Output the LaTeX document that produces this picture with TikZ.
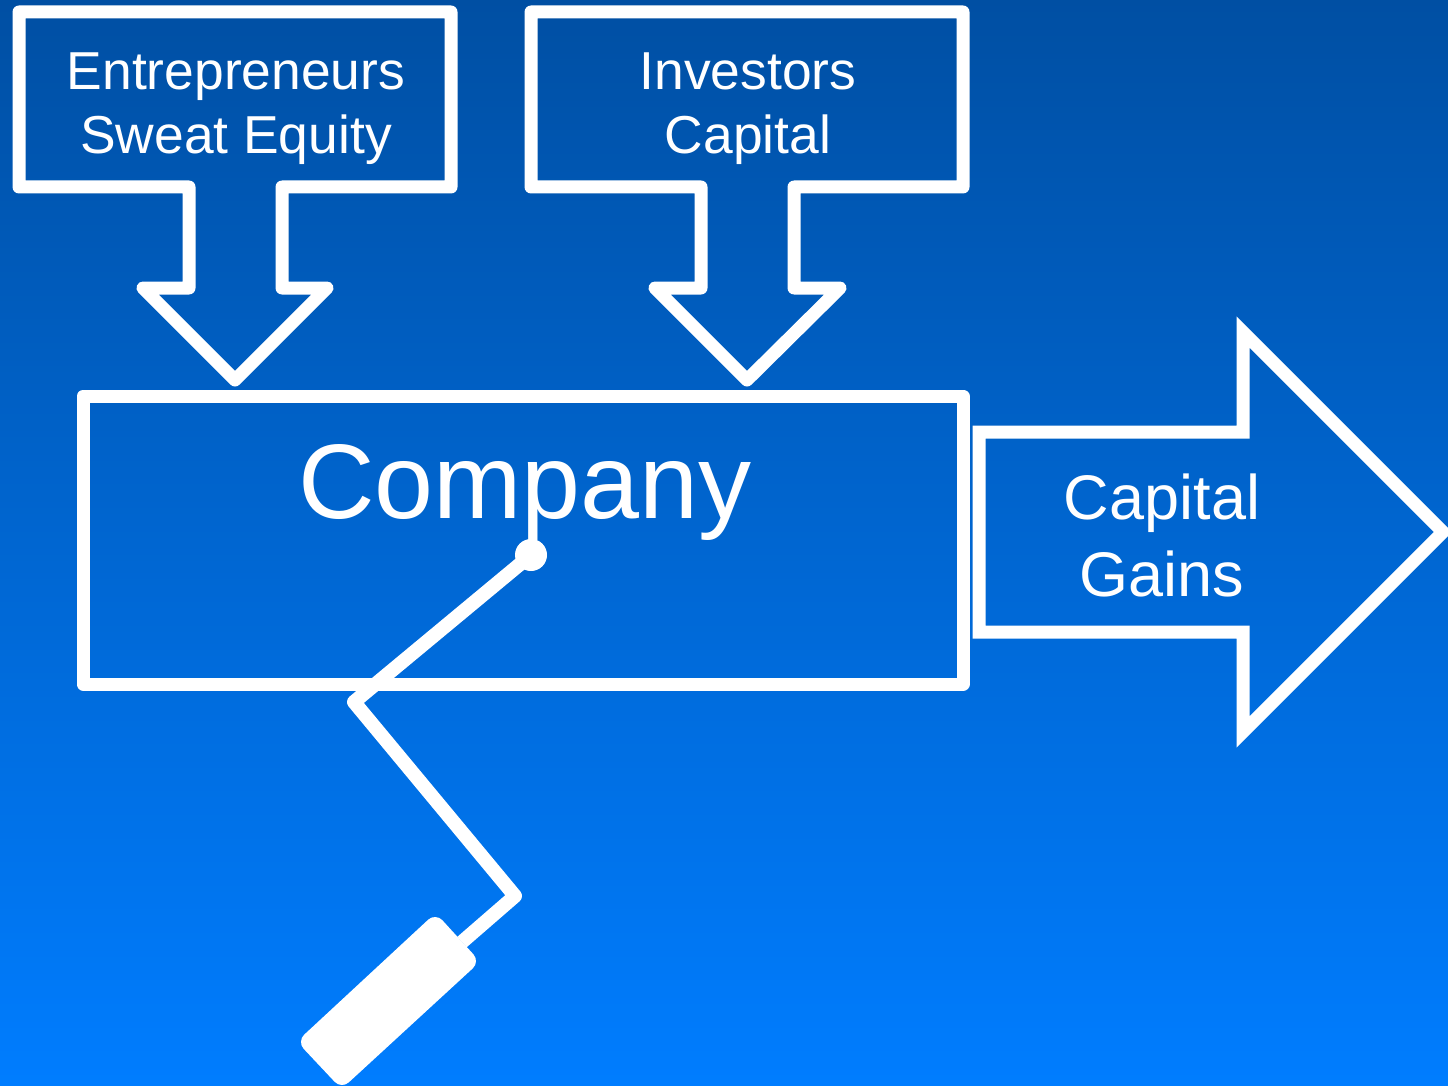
\documentclass[tikz,border=0pt]{standalone}
\usepackage{fontspec}
\setmainfont{Liberation Sans}
\definecolor{bgtop}{HTML}{004FA3}
\definecolor{bgbot}{HTML}{007DFF}
\tikzset{
  outline/.style={draw=white,line width=13pt,line join=round},
  sharpline/.style={draw=white,line width=13pt,line join=miter,miter limit=10},
  armline/.style={draw=white,line width=14pt,line join=round},
  lbl/.style={text=white,align=center,inner sep=0pt,font=\fontsize{53.4}{64}\selectfont},
  lblbig/.style={text=white,align=center,inner sep=0pt,font=\fontsize{106}{120}\selectfont},
  lblgain/.style={text=white,align=center,inner sep=0pt,font=\fontsize{63}{77}\selectfont}
}
\begin{document}
\begin{tikzpicture}[x=1pt,y=-1pt]
\useasboundingbox (0,0) rectangle (1448,1086);
\clip (0,0) rectangle (1448,1086);
\shade[top color=bgtop,bottom color=bgbot] (0,0) rectangle (1448,1086);
% down arrows
\draw[outline] (19,12) -- (451,12) -- (451,187) -- (282,187) -- (282,288) -- (327,288) -- (235,380) -- (143,288) -- (189,288) -- (189,187) -- (19,187) -- cycle;
\draw[outline] (531,12) -- (963,12) -- (963,187) -- (794,187) -- (794,288) -- (840,288) -- (747,380) -- (655,288) -- (701,288) -- (701,187) -- (531,187) -- cycle;
% company box
\draw[outline] (83,396) rectangle (963,684);
% right arrow
\draw[sharpline] (979,432) -- (1243,432) -- (1243,332) -- (1443,532) -- (1243,732) -- (1243,632) -- (979,632) -- cycle;
% paint roller
\coordinate (rollerTop) at (515,896);
\coordinate (bendA) at (354,702);
\node[circle,fill=white,minimum size=32pt,inner sep=0pt] (pivot) at (531,555) {};
\draw[armline] (pivot.center) -- (bendA) -- (rollerTop) -- (462,942);
\fill[white,draw=white,line width=20pt,line join=round] (435,927) -- (466,961) -- (342,1075) -- (311,1042) -- cycle;
% labels
\node[lbl] (entre) at (236,109) {Entrepreneurs\\Sweat Equity};
\node[lbl] (inv) at (748,109) {Investors\\Capital};
\node[lblbig] (comp) at (525,492) {Company};
\node[lblgain] (gains) at (1162,535) {Capital\\Gains};
\end{tikzpicture}
\end{document}
